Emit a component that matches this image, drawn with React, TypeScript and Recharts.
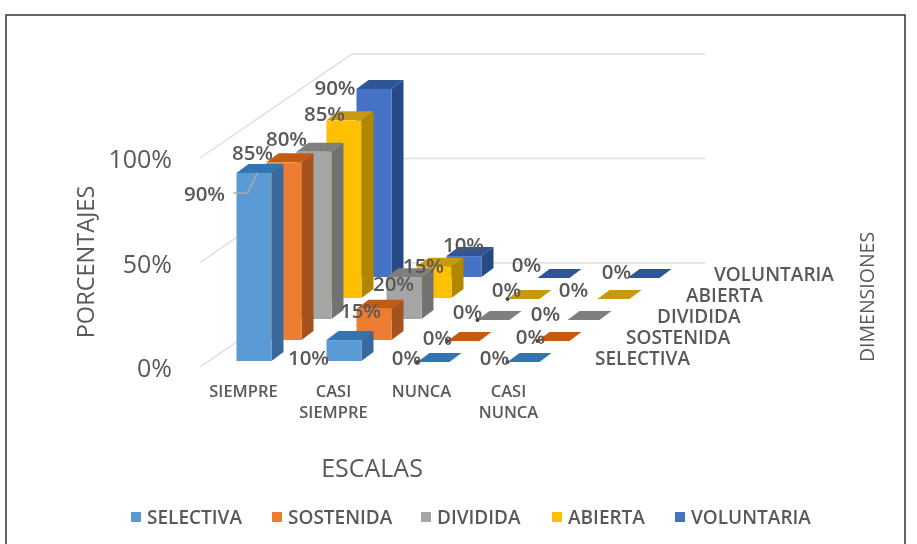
import React from "react";
import { BarChart, Bar, XAxis, YAxis, ReferenceLine, LabelList } from "recharts";

const CATEGORIES = ["SIEMPRE", "CASI SIEMPRE", "NUNCA", "CASI NUNCA"];
const SERIES_NAMES = ["SELECTIVA", "SOSTENIDA", "DIVIDIDA", "ABIERTA", "VOLUNTARIA"];
const SELECTIVA = [90, 10, 0, 0];
const SOSTENIDA = [85, 15, 0, 0];
const DIVIDIDA = [80, 20, 0, 0];
const ABIERTA = [85, 15, 0, 0];
const VOLUNTARIA = [90, 10, 0, 0];
const Y_TICKS = [0, 50, 100];

const VALUES = [SELECTIVA, SOSTENIDA, DIVIDIDA, ABIERTA, VOLUNTARIA];
const rows = CATEGORIES.map((c, i) => {
  const r: any = { name: c };
  SERIES_NAMES.forEach((s, k) => (r[s] = VALUES[k][i]));
  return r;
});

const FRONT = ["#5B9BD5", "#ED7D31", "#A5A5A5", "#FFC000", "#4472C4"];
const SIDE = ["#39699A", "#A5521F", "#727272", "#B38600", "#264A85"];
const TOP = ["#3275B0", "#C55A11", "#7F7F7F", "#C9980F", "#2F5597"];
const TEXT = "#595959";
const FONT = "'Open Sans', sans-serif";

// layout of the fake depth
const STEP_X = 30;
const STEP_Y = 21;
const SIDE_X = 12;
const SIDE_Y = 9;
const LABEL_SHIFT = [
  [[-32, 20], [-18, 17], [-10, -4], [-12, -4]],
  [[-14, -10], [4, 1], [-9, -3], [-6, -4]],
  [[-10, -14], [7, 6], [-9, -8], [-21, -6]],
  [[-2, -7], [7, -2], [0, -9], [-23, -9]],
  [[-21.5, -2], [17, -12], [-10, -13], [-10, -6]],
];
const DOTTED = [[2, 3], [2, 3], [2], [2], []];
const SERIES_LABELS = [
  { x: 595, y: 358 },
  { x: 626, y: 337 },
  { x: 657, y: 316 },
  { x: 686, y: 295 },
  { x: 714, y: 274 },
];
const LEGEND_POS = [131, 272, 421, 552, 675];

const boxShape = (s: number) => (p: any) => {
  const x = p.x + s * STEP_X;
  const y = p.y - s * STEP_Y;
  const w = p.width;
  const h = p.height;
  if (h < 0.5) {
    const fx = x + 1;
    const fw = w - 3;
    const d = `M${fx},${y + 1} L${fx + fw},${y + 1} L${fx + fw + SIDE_X},${y - SIDE_Y + 1} L${fx + SIDE_X},${y - SIDE_Y + 1} Z`;
    return (
      <g>
        <path d={d} fill={TOP[s]} />
        {DOTTED[s].includes(p.index) ? <circle cx={fx} cy={y + 1} r={2} fill="#444" /> : null}
      </g>
    );
  }
  return (
    <g>
      <path d={`M${x + w},${y} L${x + w + SIDE_X},${y - SIDE_Y} L${x + w + SIDE_X},${y + h - SIDE_Y} L${x + w},${y + h} Z`} fill={SIDE[s]} />
      <path d={`M${x},${y} L${x + SIDE_X},${y - SIDE_Y} L${x + w + SIDE_X},${y - SIDE_Y} L${x + w},${y} Z`} fill={TOP[s]} />
      <rect x={x} y={y} width={w} height={h} fill={FRONT[s]} />
    </g>
  );
};

const labelContent = (s: number) => (p: any) => {
  const [dx, dy] = LABEL_SHIFT[s][p.index];
  const x = p.x + s * STEP_X + dx;
  const y = p.y - s * STEP_Y + dy;
  return (
    <g>
      {s === 0 && p.index === 0 ? (
        <polyline points={`${x + 29},${y} ${x + 43},${y} ${x + 53},${y - 20}`} fill="none" stroke="#A6A6A6" strokeWidth={1.5} />
      ) : null}
      <text x={x} y={y} textAnchor="middle" dominantBaseline="central" fontFamily={FONT} fontWeight={600} fontSize={20.5} fill={TEXT}>
        {p.value}%
      </text>
    </g>
  );
};

const wallLine = (p: any) => {
  const f = p.y1 + 6;
  return <polyline points={`200,${f} 352,${f - 104} 705,${f - 104}`} fill="none" stroke="#DEDEDE" strokeWidth={1.5} />;
};

const XTick = (p: any) => {
  const words = String(p.payload.value).split(" ");
  const shift = [-10, -10, -12, -15][p.index];
  return (
    <text x={p.x + shift} y={p.y + 28} textAnchor="middle" fontFamily={FONT} fontWeight={600} fontSize={16.5} fill={TEXT}>
      {words.map((w, i) => (
        <tspan key={i} x={p.x + shift} dy={i === 0 ? 0 : 21}>
          {w}
        </tspan>
      ))}
    </text>
  );
};

const YTick = (p: any) => (
  <text x={172} y={p.y + 6} textAnchor="end" dominantBaseline="central" fontFamily={FONT} fontSize={25} fontWeight={500} fill={TEXT}>
    {p.payload.value}%
  </text>
);

const LegendRow = () => (
  <div style={{ position: "absolute", left: 0, top: 0, width: 917, height: 544, pointerEvents: "none" }}>
    {SERIES_NAMES.map((n, i) => (
      <div key={n} style={{ position: "absolute", left: LEGEND_POS[i], top: 506, display: "flex", alignItems: "center", height: 22, whiteSpace: "nowrap", fontFamily: FONT, fontWeight: 600, fontSize: 19, color: TEXT }}>
        <span style={{ display: "inline-block", width: 10, height: 10, background: FRONT[i], marginRight: 6 }} />
        {n}
      </div>
    ))}
  </div>
);

const Decor = () => (
  <g fontFamily={FONT} fill={TEXT}>
    <rect x={6} y={15} width={899} height={560} fill="none" stroke="#333" strokeWidth={1.5} />
    <text x={0} y={0} transform="translate(85,262) rotate(-90)" textAnchor="middle" dominantBaseline="central" fontSize={23.5} fontWeight={500}>PORCENTAJES</text>
    <text x={372} y={467} textAnchor="middle" dominantBaseline="central" fontSize={25} fontWeight={500}>ESCALAS</text>
    <text x={0} y={0} transform="translate(866,297) rotate(-90)" textAnchor="middle" dominantBaseline="central" fontSize={19.5} fontWeight={500}>DIMENSIONES</text>
    {SERIES_NAMES.map((n, i) => (
      <text key={n} x={SERIES_LABELS[i].x} y={SERIES_LABELS[i].y} dominantBaseline="central" fontSize={19} fontWeight={600}>{n}</text>
    ))}
  </g>
);

const ORDER = [4, 3, 2, 1, 0];

export default function App() {
  return (
    <div style={{ position: "absolute", left: 0, top: 0, width: 917, height: 544, overflow: "hidden", background: "#fff", filter: "blur(0.7px)" }}>
      <BarChart
        width={917}
        height={544}
        data={rows}
        margin={{ top: 152, right: 348.5, bottom: 0, left: 8.5 }}
        barSize={35}
        barGap={-35}
      >
        <XAxis dataKey="name" height={183} axisLine={false} tickLine={false} tick={XTick} interval={0} />
        <YAxis width={200} domain={[0, 100]} ticks={Y_TICKS} axisLine={false} tickLine={false} tick={YTick} />
        <Decor />
        {Y_TICKS.map((v) => (
          <ReferenceLine key={v} y={v} shape={wallLine} zIndex={-50} />
        ))}
        {ORDER.map((s) => (
          <Bar key={s} dataKey={SERIES_NAMES[s]} isAnimationActive={false} shape={boxShape(s)}>
            <LabelList dataKey={SERIES_NAMES[s]} content={labelContent(s)} />
          </Bar>
        ))}
      </BarChart>
      <LegendRow />
    </div>
  );
}
